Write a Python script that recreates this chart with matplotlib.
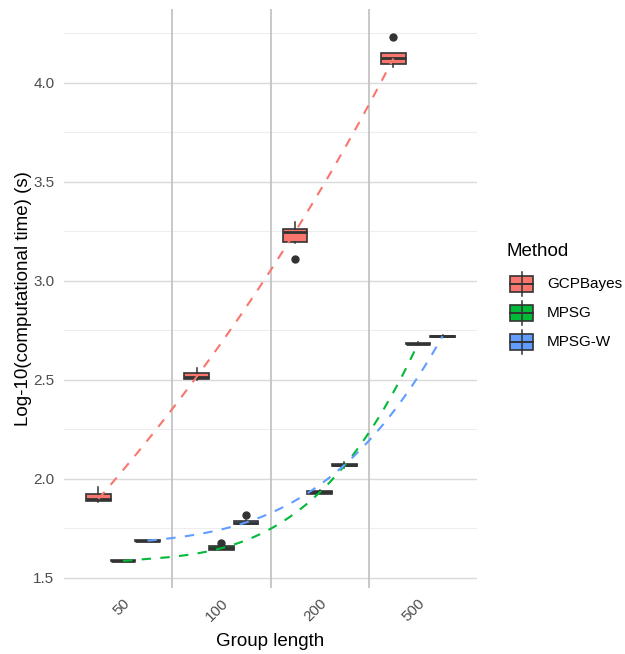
import numpy as np
import matplotlib
matplotlib.use("Agg")
import matplotlib.pyplot as plt
import matplotlib.transforms as mtransforms
from matplotlib.patches import Rectangle

plt.rcParams['font.family'] = ['Liberation Sans', 'DejaVu Sans']

group_lengths = ["50", "100", "200", "500"]
methods = ["GCPBayes", "MPSG", "MPSG-W"]
fills = ["#F8766D", "#00BA38", "#619CFF"]

# box stats, one value per group length
gcp_low = [1.881, 2.500, 3.190, 4.080]
gcp_q1 = [1.886, 2.502, 3.197, 4.096]
gcp_med = [1.897, 2.515, 3.247, 4.123]
gcp_q3 = [1.920, 2.532, 3.261, 4.150]
gcp_high = [1.955, 2.558, 3.298, 4.150]
gcp_out = [[], [], [3.109], [4.234]]

mpsg_low = [1.580, 1.638, 1.922, 2.676]
mpsg_q1 = [1.582, 1.640, 1.924, 2.678]
mpsg_med = [1.584, 1.648, 1.930, 2.682]
mpsg_q3 = [1.588, 1.660, 1.938, 2.686]
mpsg_high = [1.590, 1.662, 1.940, 2.690]
mpsg_out = [[], [1.676], [], []]

mpsgw_low = [1.683, 1.770, 2.055, 2.715]
mpsgw_q1 = [1.684, 1.772, 2.062, 2.717]
mpsgw_med = [1.686, 1.778, 2.068, 2.720]
mpsgw_q3 = [1.688, 1.788, 2.074, 2.723]
mpsgw_high = [1.690, 1.790, 2.085, 2.725]
mpsgw_out = [[], [1.814], [], []]

stats_by_method = [
    (gcp_low, gcp_q1, gcp_med, gcp_q3, gcp_high, gcp_out),
    (mpsg_low, mpsg_q1, mpsg_med, mpsg_q3, mpsg_high, mpsg_out),
    (mpsgw_low, mpsgw_q1, mpsgw_med, mpsgw_q3, mpsgw_high, mpsgw_out),
]
offsets = [-0.25, 0.0, 0.25]

W, H = 625, 654
fig = plt.figure(figsize=(W / 100, H / 100), dpi=100)
ax = fig.add_axes([64 / W, 1 - 588 / H, (477 - 64) / W, (588 - 9) / H])

dark = "#333333"
xc = np.arange(1, len(group_lengths) + 1)

for (lo, q1, med, q3, hi, out), off, col in zip(stats_by_method, offsets, fills):
    bstats = []
    for i in range(len(group_lengths)):
        bstats.append(dict(whislo=lo[i], q1=q1[i], med=med[i], q3=q3[i],
                           whishi=hi[i], fliers=out[i]))
    ax.bxp(bstats, positions=xc + off, widths=0.25, patch_artist=True,
           showcaps=False,
           boxprops=dict(facecolor=col, edgecolor=dark, linewidth=1.2),
           medianprops=dict(color=dark, linewidth=2.0),
           whiskerprops=dict(color=dark, linewidth=1.1),
           flierprops=dict(marker='o', markerfacecolor=dark, markeredgecolor=dark,
                           markersize=5),
           manage_ticks=False, zorder=3)

# smooth dashed trend through medians
for (lo, q1, med, q3, hi, out), off, col in zip(stats_by_method, offsets, fills):
    xp = xc + off
    coefs = np.polyfit(xp, med, 3)
    xs = np.linspace(xp[0], xp[-1], 200)
    ax.plot(xs, np.polyval(coefs, xs), color=col, linewidth=1.5,
            linestyle=(0, (4.5, 4.5)), zorder=4)

# separators between groups
for v in [1.5, 2.5, 3.5]:
    ax.axvline(v, color="#C4C4C4", linewidth=1.3, zorder=1)

ax.set_xlim(0.4, 4.6)
ax.set_ylim(1.447, 4.373)
ax.set_yticks(np.arange(1.5, 4.01, 0.5))
ax.set_yticks(np.arange(1.75, 4.3, 0.5), minor=True)
ax.set_yticklabels([f"{t:.1f}" for t in np.arange(1.5, 4.01, 0.5)])
ax.set_xticks(xc)
ax.set_xticklabels(group_lengths, rotation=45, ha='right', va='top',
                   rotation_mode='anchor')
shift = mtransforms.ScaledTranslation(7 / 100, 0, fig.dpi_scale_trans)
for lab in ax.get_xticklabels():
    lab.set_transform(lab.get_transform() + shift)
ax.grid(True, axis='y', which='major', color="#DADADA", linewidth=1.0, zorder=0)
ax.grid(True, axis='y', which='minor', color="#EDEDED", linewidth=0.8, zorder=0)
ax.set_axisbelow(True)
ax.tick_params(axis='both', which='both', length=0, labelsize=11, labelcolor="#4D4D4D")
ax.tick_params(axis='y', pad=7)
ax.tick_params(axis='x', pad=6)
for s in ax.spines.values():
    s.set_visible(False)
ax.set_xlabel("Group length", fontsize=13.5, labelpad=6)
ax.set_ylabel("Log-10(computational time) (s)", fontsize=13.5, labelpad=1)

# legend drawn by hand
lg = fig.add_axes([0, 0, 1, 1], zorder=5)
lg.set_xlim(0, W)
lg.set_ylim(H, 0)
lg.axis('off')
lg.text(506, 251, "Method", fontsize=13.5, va='center', ha='left')
for k, (name, col) in enumerate(zip(methods, fills)):
    cy = 284 + k * 29
    lg.plot([521.5, 521.5], [cy - 12, cy + 12], color=dark, linewidth=1.1)
    lg.add_patch(Rectangle((510, cy - 8), 23, 16, facecolor=col,
                           edgecolor=dark, linewidth=1.2))
    lg.plot([510, 533], [cy, cy], color=dark, linewidth=1.4)
    lg.text(547, cy, name, fontsize=11, va='center', ha='left')

fig.savefig("out.png", dpi=100)
